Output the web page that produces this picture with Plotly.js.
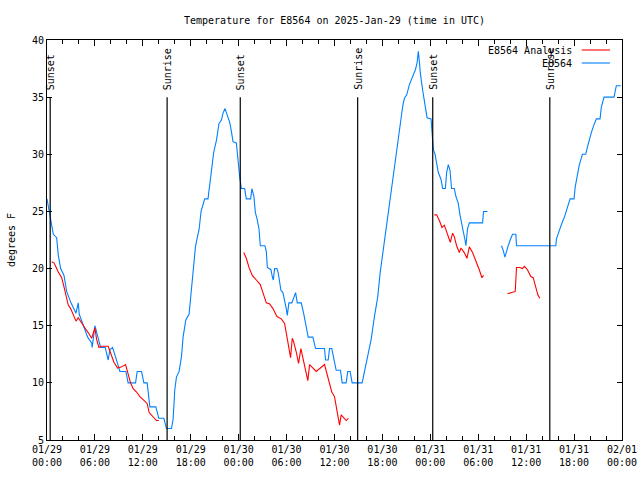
<!DOCTYPE html>
<html>
<head>
<meta charset="utf-8">
<script src="https://cdn.plot.ly/plotly-3.0.1.min.js"></script>
<style>html,body{margin:0;padding:0;background:#fff;}#chart{width:640px;height:480px;}</style>
</head>
<body>
<div id="chart"></div>
<script>
// Hours after 2025-01-29 00:00 UTC, and temperatures (degrees F)
const obsHours = [0.0,0.29,0.5,0.79,1.21,1.41,1.71,2.13,2.46,3.0,3.63,3.91,4.04,4.54,5.09,5.59,5.66,6.0,6.41,6.71,7.29,7.66,7.88,8.21,8.79,9.13,9.88,10.16,11.09,11.29,11.84,12.13,12.54,12.88,13.63,14.0,14.63,14.96,15.59,15.79,16.0,16.21,16.54,16.84,17.04,17.38,17.79,18.09,18.29,18.59,18.84,19.04,19.29,19.75,20.16,20.38,20.59,20.88,21.21,21.54,21.84,22.04,22.29,22.46,22.66,22.88,23.09,23.29,23.71,23.91,24.13,24.34,24.75,24.96,25.5,25.66,25.91,26.09,26.29,26.54,26.71,27.29,27.46,27.59,27.88,28.04,28.21,28.34,28.5,28.79,28.96,29.13,29.29,29.54,29.75,29.96,30.09,30.29,30.66,30.91,31.13,31.34,31.84,32.13,32.46,32.71,33.29,33.63,34.75,34.88,35.21,35.38,35.66,35.91,36.21,36.75,36.96,37.46,37.66,37.96,38.21,39.46,39.75,40.16,40.59,41.0,41.41,41.71,42.04,42.38,42.66,42.96,43.29,43.5,43.79,44.04,44.34,44.54,44.75,45.04,45.38,45.79,46.13,46.34,46.5,46.63,46.75,47.04,47.38,47.59,48.09,48.21,48.38,48.59,48.79,49.0,49.34,49.54,49.88,50.04,50.25,50.46,50.66,51.0,51.21,51.5,51.71,51.91,52.13,52.34,52.46,52.66,52.88,54.54,54.66,55.16,56.0,56.91,57.13,57.34,57.54,57.75,58.0,58.29,58.71,58.79,63.71,63.79,64.04,64.34,64.54,64.79,65.04,65.29,65.5,66.0,66.13,66.34,66.63,67.04,67.46,67.66,67.88,68.16,68.5,68.79,69.25,69.41,69.75,71.0,71.29,71.84];
const obsTemp = [26.1,25.0,24.3,23.0,22.7,21.2,20.0,19.4,18.0,17.0,16.1,17.0,16.0,15.0,14.0,13.5,13.1,15.0,14.0,13.1,13.1,12.0,12.9,13.1,11.8,11.0,11.0,10.0,10.0,11.0,11.0,10.0,10.0,7.9,7.9,6.9,6.9,6.0,6.0,6.8,9.4,10.5,11.0,12.3,14.0,15.5,16.0,18.4,20.2,21.9,22.8,23.4,25.0,26.1,26.1,27.3,28.8,30.2,31.2,32.7,33.0,33.6,34.0,33.6,33.1,32.8,32.0,31.1,31.0,29.5,28.0,27.0,27.0,26.1,26.1,27.0,26.3,24.9,24.4,23.5,22.0,22.0,21.5,20.1,20.0,19.9,19.3,19.0,20.0,20.0,19.6,18.7,18.1,17.9,17.3,16.5,15.9,17.0,17.0,17.4,17.9,17.0,17.0,16.1,14.9,14.0,14.0,13.0,13.0,12.0,12.0,13.0,13.0,12.0,11.1,11.1,10.0,10.0,11.0,11.0,10.0,10.0,11.0,12.3,13.8,15.8,17.5,19.6,21.3,22.8,24.3,26.0,27.5,28.9,30.4,31.8,33.0,34.2,34.9,35.2,36.1,36.8,37.4,38.0,39.0,38.1,37.1,35.6,34.2,33.2,33.1,31.7,30.4,30.0,29.3,28.4,27.8,27.0,27.0,28.4,29.1,28.6,27.0,27.0,26.3,25.7,24.7,24.0,23.5,22.5,22.0,23.5,24.0,24.0,25.0,25.0,null,22.0,21.6,21.0,21.6,22.0,22.5,23.0,23.0,22.0,22.0,22.6,23.1,23.8,24.1,24.5,25.1,25.7,26.1,26.1,27.1,27.9,29.0,30.0,30.0,30.6,31.2,31.9,32.6,33.1,33.1,34.1,35.0,35.0,36.0,36.0];

const anaHours = [0.59,0.88,1.41,1.84,2.13,2.38,2.66,2.96,3.29,3.63,3.91,4.34,4.75,5.16,5.59,6.0,6.21,6.5,6.84,7.66,8.0,8.38,8.84,9.34,9.84,10.09,10.46,10.79,11.21,11.63,12.13,12.54,12.79,13.29,13.71,14.0,19.0,24.63,24.96,25.29,25.71,26.21,26.71,27.04,27.46,27.88,28.29,28.79,29.34,29.75,29.96,30.25,30.5,30.71,30.88,31.21,31.5,31.79,32.04,32.38,32.66,32.88,33.71,34.75,35.16,35.66,36.0,36.29,36.63,36.84,37.46,37.75,43.0,48.5,48.79,49.13,49.46,49.75,49.96,50.29,50.5,50.79,51.0,51.29,51.63,51.84,52.25,52.59,52.88,53.29,53.71,54.13,54.46,54.66,56.0,57.66,58.09,58.63,58.79,59.21,59.54,59.79,60.16,60.59,60.88,61.09,61.29,61.46,61.71];
const anaTemp = [20.6,20.5,19.7,19.2,18.4,17.5,16.8,16.5,15.9,15.4,15.7,15.2,14.8,14.4,13.9,14.8,13.8,13.1,13.2,13.2,12.6,11.8,11.3,11.4,11.6,11.0,10.0,9.5,9.2,8.8,8.5,8.2,7.4,7.0,6.7,6.7,null,21.4,20.9,20.1,19.4,19.0,18.6,17.9,17.0,16.9,16.5,15.8,15.6,15.2,14.4,13.5,12.2,13.9,13.6,12.7,11.7,13.0,12.2,11.1,10.2,11.6,11.0,11.6,10.5,9.2,8.8,7.6,6.3,7.2,6.7,6.9,null,24.7,24.7,24.2,23.6,23.8,23.4,22.8,22.3,23.1,22.8,22.0,21.4,21.8,21.4,20.9,21.9,21.4,20.7,19.9,19.2,19.4,null,17.8,17.9,18.0,20.1,20.1,20.0,20.2,19.9,19.3,19.2,18.7,18.1,17.7,17.4];

const sunHours = [0.4,15.04,24.2,38.9,48.3,62.96];
const sunLabels = ['Sunset','Sunrise','Sunset','Sunrise','Sunset','Sunrise'];
const seriesNames = ['E8564 Analysis','E8564'];
const seriesColors = ['#ff0000','#0080ff'];

const base = Date.UTC(2025,0,29);
function toT(h){ return new Date(base + Math.round(h*3600000)).toISOString().slice(0,19).replace('T',' '); }

const FONT = 'DejaVu Sans Mono, monospace';
const traces = [
  {x: obsHours.map(toT), y: obsTemp, type:'scatter', mode:'lines', name: seriesNames[1], line:{color:seriesColors[1], width:1.1}, connectgaps:false},
  {x: anaHours.map(toT), y: anaTemp, type:'scatter', mode:'lines', name: seriesNames[0], line:{color:seriesColors[0], width:1.1}, connectgaps:false}
];

const shapes = sunHours.map(h => ({type:'line', xref:'x', yref:'y', x0:toT(h), x1:toT(h), y0:5, y1:35, line:{color:'black', width:1.2}}));
const annotations = sunHours.map((h,i) => ({xref:'x', yref:'y', x:toT(h), y:35, yshift:5, text:sunLabels[i], textangle:-90, showarrow:false, xanchor:'center', yanchor:'bottom', font:{family:FONT, size:10, color:'black'}}));

// legend (text left of sample line, as in the reference)
const legY = [0.975, 0.9425];
seriesNames.forEach((n,i) => {
  annotations.push({xref:'paper', yref:'paper', x:0.9165, y:legY[i], text:n, showarrow:false, xanchor:'right', yanchor:'middle', font:{family:FONT, size:10, color:'black'}});
  shapes.push({type:'line', xref:'paper', yref:'paper', x0:0.930, x1:0.979, y0:legY[i], y1:legY[i], line:{color:seriesColors[i], width:1.1}});
});

const layout = {
  width:640, height:480,
  margin:{l:47, r:18, t:40, b:40},
  paper_bgcolor:'white', plot_bgcolor:'white',
  font:{family:FONT, size:10, color:'black'},
  showlegend:false,
  title:{text:'Temperature for E8564 on 2025-Jan-29 (time in UTC)', x:0.5, xref:'paper', y:0.958, yanchor:'middle', font:{family:FONT, size:10, color:'black'}},
  xaxis:{type:'date', range:[toT(0), toT(72)], tick0:toT(0), dtick:6*3600000, tickformat:'%m/%d<br>%H:%M',
    ticks:'inside', ticklen:6, tickcolor:'black', tickwidth:1, showline:true, linecolor:'black', linewidth:1, mirror:'allticks',
    showgrid:false, zeroline:false, tickfont:{family:FONT, size:10},
    minor:{dtick:2*3600000, ticks:'inside', ticklen:4, tickcolor:'black', showgrid:false}},
  yaxis:{range:[5,40], dtick:5, ticks:'inside', ticklen:5, tickcolor:'black', showline:true, linecolor:'black', linewidth:1, mirror:'allticks',
    showgrid:false, zeroline:false, tickfont:{family:FONT, size:10},
    title:{text:'degrees F', font:{family:FONT, size:10}, standoff:14}},
  shapes: shapes,
  annotations: annotations
};

Plotly.newPlot('chart', traces, layout, {staticPlot:true, displayModeBar:false});
</script>
</body>
</html>
